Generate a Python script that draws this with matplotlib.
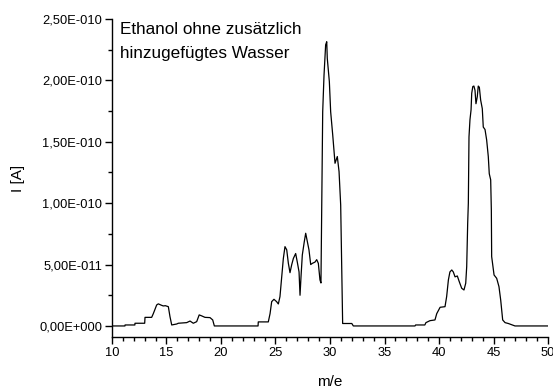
import matplotlib
matplotlib.use("Agg")
import matplotlib.pyplot as plt
from matplotlib.ticker import MultipleLocator, FuncFormatter

plt.rcParams['font.family'] = ['Liberation Sans', 'DejaVu Sans']

# m/e values and current (units of 1e-10 A)
mass = [10.0, 11.19, 11.2, 12.1, 12.11, 13.0, 13.03, 13.64, 13.79, 14.1, 14.25, 14.5, 14.7, 14.9, 15.17,
        15.32, 15.48, 15.94, 16.08, 16.85, 17.16, 17.46, 17.77, 18.0, 18.23, 18.53, 18.99, 19.24, 19.39,
        23.4, 23.42, 24.34, 24.5, 24.65, 24.86, 25.1, 25.26, 25.41, 25.57, 25.72, 25.87, 26.03, 26.18,
        26.33, 26.49, 26.64, 26.85, 27.0, 27.16, 27.25, 27.34, 27.46, 27.64, 27.77, 27.92, 28.07, 28.23,
        28.38, 28.62, 28.78, 28.93, 29.08, 29.17, 29.24, 29.33, 29.45, 29.6, 29.7, 29.75, 29.94, 30.06,
        30.25, 30.37, 30.46, 30.67, 30.83, 30.98, 31.16, 32.0, 32.14, 37.8, 37.85, 38.7, 38.8, 39.17,
        39.63, 39.79, 40.1, 40.55, 40.7, 40.86, 41.0, 41.17, 41.31, 41.47, 41.68, 41.86, 42.08, 42.29,
        42.45, 42.54, 42.63, 42.69, 42.75, 42.84, 42.94, 43.0, 43.1, 43.2, 43.3, 43.39, 43.51, 43.6,
        43.7, 43.82, 43.97, 44.06, 44.22, 44.37, 44.52, 44.61, 44.74, 44.8, 44.83, 45.05, 45.29, 45.5,
        45.66, 45.84, 46.06, 46.36, 46.97, 50.0]
current = [0.0, 0.0, 0.008, 0.008, 0.022, 0.022, 0.07, 0.07, 0.10, 0.171, 0.18, 0.17, 0.163, 0.165, 0.157,
           0.076, 0.008, 0.016, 0.022, 0.027, 0.04, 0.022, 0.035, 0.09, 0.082, 0.07, 0.068, 0.049, 0.0,
           0.0, 0.033, 0.033, 0.10, 0.198, 0.217, 0.198, 0.179, 0.239, 0.40, 0.55, 0.646, 0.62, 0.51,
           0.434, 0.50, 0.55, 0.59, 0.52, 0.44, 0.25, 0.40, 0.578, 0.686, 0.755, 0.686, 0.62, 0.50,
           0.51, 0.52, 0.54, 0.51, 0.375, 0.35, 0.985, 1.745, 2.04, 2.29, 2.315, 2.18, 1.99, 1.745,
           1.555, 1.42, 1.325, 1.38, 1.257, 0.985, 0.02, 0.02, 0.0, 0.0, 0.008, 0.008, 0.027, 0.043,
           0.049, 0.10, 0.152, 0.157, 0.239, 0.375, 0.44, 0.456, 0.44, 0.40, 0.407, 0.36, 0.307, 0.293,
           0.348, 0.483, 0.836, 1.0, 1.54, 1.68, 1.76, 1.895, 1.95, 1.954, 1.92, 1.81, 1.867, 1.954,
           1.944, 1.84, 1.77, 1.62, 1.60, 1.515, 1.38, 1.24, 1.19, 0.945, 0.565, 0.415, 0.388, 0.32,
           0.21, 0.049, 0.027, 0.02, 0.0, 0.0]

xticks = [10, 15, 20, 25, 30, 35, 40, 45, 50]
yticks = [0.0, 5e-11, 1e-10, 1.5e-10, 2e-10, 2.5e-10]

fig = plt.figure(figsize=(5.53, 3.92), dpi=100)
ax = fig.add_axes([0.2025, 0.1403, 0.7885, 0.8112])

ax.plot(mass, [c * 1e-10 for c in current], color='black', linewidth=0.9)

ax.set_xlim(10, 50)
ax.set_ylim(-0.09e-10, 2.5e-10)
ax.set_xticks(xticks)
ax.set_yticks(yticks)
ax.xaxis.set_minor_locator(MultipleLocator(1))
ax.yaxis.set_minor_locator(MultipleLocator(2.5e-11))

def fmt(v, pos):
    if abs(v) < 1e-30:
        return "0,00E+000"
    s = "%.2E" % v
    mant, exp = s.split("E")
    e = int(exp)
    sign = "-" if e < 0 else "+"
    return "%sE%s%03d" % (mant.replace(".", ","), sign, abs(e))

ax.yaxis.set_major_formatter(FuncFormatter(fmt))

for s in ['top', 'right']:
    ax.spines[s].set_visible(False)
for s in ['left', 'bottom']:
    ax.spines[s].set_linewidth(1.0)

ax.tick_params(which='major', direction='out', length=5, width=1.0, labelsize=9.3, pad=2)
ax.tick_params(which='minor', direction='out', length=3, width=1.0)

ax.set_xlabel('m/e', fontsize=11, labelpad=12)
ax.set_ylabel('I [A]', fontsize=11, labelpad=10)

ax.text(0.018, 0.99, 'Ethanol ohne zusätzlich\nhinzugefügtes Wasser', transform=ax.transAxes,
        fontsize=12.3, va='top', ha='left', linespacing=1.7)

fig.savefig('out.png', dpi=100)
